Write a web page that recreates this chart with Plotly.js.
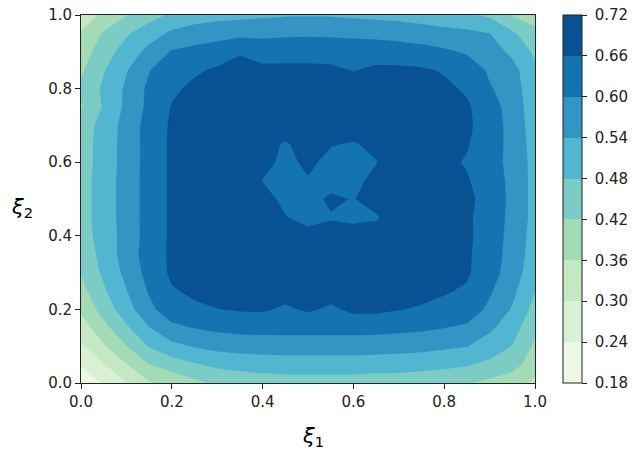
<!DOCTYPE html>
<html>
<head>
<meta charset="utf-8">
<script src="https://cdn.plot.ly/plotly-3.0.1.min.js"></script>
<style>html,body{margin:0;padding:0;background:#fff;}#chart{width:633px;height:453px;}</style>
</head>
<body>
<div id="chart"></div>
<script>
// grid coordinates (xi_1 along x, xi_2 along y)
var xi1 = [0,0.05,0.1,0.15,0.2,0.25,0.3,0.35,0.4,0.45,0.5,0.55,0.6,0.65,0.7,0.75,0.8,0.85,0.9,0.95,1.0];
var xi2 = [0,0.05,0.1,0.15,0.2,0.25,0.3,0.35,0.4,0.45,0.5,0.55,0.6,0.65,0.7,0.75,0.8,0.85,0.9,0.95,1.0];

// field values, one row per xi2 value (bottom row first)
var z = [
[0.20,0.245,0.30,0.355,0.375,0.405,0.43,0.44,0.45,0.455,0.455,0.455,0.455,0.45,0.45,0.445,0.44,0.425,0.405,0.38,0.35],
[0.245,0.296,0.357,0.418,0.45,0.474,0.493,0.501,0.507,0.51,0.51,0.51,0.51,0.507,0.505,0.50,0.493,0.485,0.467,0.449,0.38],
[0.29,0.353,0.418,0.484,0.525,0.544,0.559,0.566,0.568,0.57,0.57,0.57,0.57,0.568,0.565,0.56,0.551,0.542,0.512,0.479,0.41],
[0.33,0.401,0.47,0.538,0.585,0.602,0.613,0.619,0.62,0.62,0.62,0.62,0.62,0.62,0.615,0.61,0.601,0.59,0.551,0.506,0.435],
[0.37,0.445,0.515,0.585,0.635,0.65,0.659,0.665,0.668,0.65,0.668,0.65,0.672,0.672,0.662,0.655,0.645,0.633,0.588,0.535,0.46],
[0.40,0.471,0.538,0.606,0.655,0.67,0.68,0.685,0.685,0.685,0.685,0.685,0.685,0.685,0.68,0.675,0.665,0.653,0.608,0.555,0.48],
[0.425,0.492,0.556,0.622,0.67,0.685,0.695,0.698,0.70,0.695,0.692,0.695,0.70,0.698,0.695,0.69,0.68,0.668,0.624,0.573,0.50],
[0.44,0.501,0.568,0.628,0.67,0.685,0.695,0.70,0.698,0.69,0.685,0.69,0.695,0.70,0.695,0.69,0.68,0.669,0.627,0.579,0.51],
[0.45,0.507,0.563,0.625,0.67,0.685,0.695,0.70,0.69,0.68,0.672,0.675,0.675,0.68,0.69,0.69,0.68,0.672,0.63,0.582,0.515],
[0.455,0.51,0.565,0.625,0.67,0.685,0.695,0.70,0.685,0.662,0.648,0.657,0.652,0.655,0.685,0.69,0.68,0.67,0.632,0.585,0.52],
[0.455,0.51,0.565,0.625,0.67,0.685,0.695,0.695,0.675,0.65,0.645,0.667,0.658,0.68,0.69,0.69,0.68,0.672,0.64,0.585,0.52],
[0.455,0.51,0.565,0.625,0.67,0.685,0.695,0.695,0.659,0.64,0.655,0.645,0.648,0.672,0.69,0.69,0.68,0.665,0.632,0.585,0.52],
[0.45,0.507,0.563,0.625,0.67,0.685,0.695,0.70,0.685,0.64,0.675,0.64,0.64,0.658,0.69,0.685,0.675,0.655,0.625,0.582,0.52],
[0.45,0.507,0.563,0.625,0.67,0.685,0.695,0.70,0.68,0.655,0.68,0.665,0.655,0.675,0.69,0.69,0.68,0.665,0.628,0.582,0.515],
[0.445,0.504,0.562,0.624,0.668,0.685,0.695,0.70,0.695,0.69,0.695,0.70,0.70,0.695,0.695,0.69,0.68,0.671,0.632,0.579,0.51],
[0.415,0.486,0.553,0.615,0.663,0.685,0.695,0.70,0.70,0.70,0.70,0.70,0.70,0.70,0.695,0.69,0.68,0.668,0.626,0.576,0.505],
[0.43,0.491,0.55,0.613,0.65,0.672,0.685,0.69,0.69,0.69,0.69,0.69,0.685,0.69,0.685,0.68,0.672,0.652,0.606,0.569,0.50],
[0.41,0.476,0.536,0.597,0.643,0.652,0.668,0.68,0.675,0.675,0.675,0.672,0.658,0.672,0.672,0.668,0.655,0.643,0.59,0.562,0.49],
[0.39,0.452,0.506,0.558,0.605,0.617,0.627,0.655,0.633,0.635,0.635,0.635,0.633,0.632,0.627,0.62,0.61,0.592,0.571,0.527,0.47],
[0.365,0.427,0.473,0.514,0.551,0.569,0.579,0.584,0.587,0.59,0.592,0.59,0.587,0.584,0.579,0.571,0.561,0.554,0.541,0.49,0.44],
[0.33,0.37,0.418,0.455,0.49,0.51,0.52,0.525,0.53,0.535,0.535,0.535,0.53,0.525,0.52,0.51,0.50,0.49,0.47,0.415,0.39]
];

// contour levels and colorbar labels
var levelStart = 0.18, levelEnd = 0.72, levelStep = 0.06;
var cbTicks = [0.18,0.24,0.30,0.36,0.42,0.48,0.54,0.60,0.66,0.72];
var cbLabels = ['0.18','0.24','0.30','0.36','0.42','0.48','0.54','0.60','0.66','0.72'];
var axTicks = [0,0.2,0.4,0.6,0.8,1.0];
var axLabels = ['0.0','0.2','0.4','0.6','0.8','1.0'];

// GnBu band colours (lowest to highest band)
var bandColors = ['#edf8e7','#d9f0d4','#c4e8c1','#a3dbb7','#7bccc4','#53b6d1','#3395c3','#1474b2','#085294'];

var cs = [];
for (var k = 0; k < bandColors.length; k++) {
  cs.push([k / bandColors.length, bandColors[k]]);
  cs.push([(k + 1) / bandColors.length, bandColors[k]]);
}

var font = 'DejaVu Sans, Liberation Sans, sans-serif';
var ink = '#222';

var trace = {
  type: 'contour',
  x: xi1, y: xi2, z: z,
  autocontour: false,
  contours: {start: levelStart, end: levelEnd, size: levelStep, coloring: 'fill', showlines: false},
  line: {width: 0, smoothing: 0},
  colorscale: cs,
  zmin: 0.18, zmax: 0.7201,
  hoverinfo: 'skip',
  colorbar: {
    x: 1.0617, xanchor: 'left', xpad: 0,
    y: 0.5, yanchor: 'middle', len: 1, lenmode: 'fraction', ypad: 0,
    thickness: 19, thicknessmode: 'pixels',
    outlinewidth: 1, outlinecolor: ink,
    ticks: 'outside', ticklen: 5, tickwidth: 1, tickcolor: ink,
    tickvals: cbTicks,
    ticktext: cbLabels.map(function (s) { return '\u00a0' + s; }),
    tickfont: {family: font, size: 15, color: ink}
  }
};

var axisBase = {
  range: [0, 1], tickvals: axTicks, ticktext: axLabels,
  ticks: 'outside', ticklen: 5, tickwidth: 1, tickcolor: ink,
  showline: true, mirror: true, linecolor: ink, linewidth: 1,
  showgrid: false, zeroline: false, automargin: false,
  tickfont: {family: font, size: 15, color: ink}
};

var layout = {
  width: 633, height: 453,
  margin: {l: 81, r: 98, t: 15, b: 70, pad: 0, autoexpand: false},
  paper_bgcolor: '#fff', plot_bgcolor: '#fff',
  showlegend: false,
  xaxis: Object.assign({}, axisBase),
  yaxis: Object.assign({}, axisBase),
  annotations: [
    {text: '<i>ξ</i><sub>1</sub>', xref: 'paper', yref: 'paper', x: 0.512, y: -0.148,
     xanchor: 'center', yanchor: 'middle', showarrow: false, font: {family: font, size: 21, color: '#000'}},
    {text: '<i>ξ</i><sub>2</sub>', xref: 'paper', yref: 'paper', x: -0.13, y: 0.475,
     xanchor: 'center', yanchor: 'middle', showarrow: false, font: {family: font, size: 21, color: '#000'}}
  ]
};

Plotly.newPlot('chart', [trace], layout, {staticPlot: true, displayModeBar: false});
</script>
</body>
</html>
